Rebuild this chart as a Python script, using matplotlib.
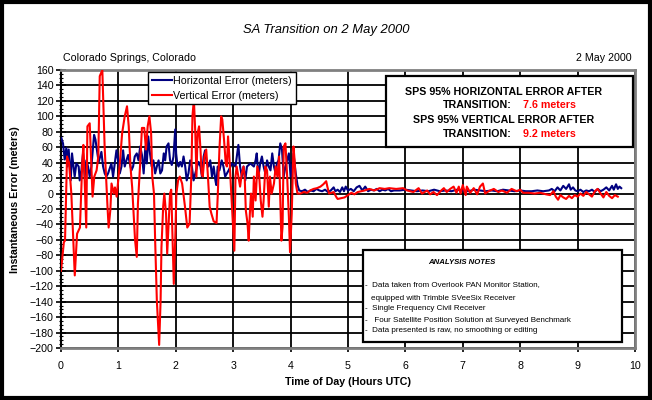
import matplotlib
matplotlib.use("Agg")
import matplotlib.pyplot as plt
from matplotlib.patches import Rectangle
from matplotlib.ticker import MultipleLocator

plt.rcParams['font.family'] = ['Liberation Sans', 'DejaVu Sans']

# horizontal error (meters) vs time (hours UTC)
horiz_t = [0.006, 0.035, 0.064, 0.093, 0.11, 0.134, 0.169, 0.192, 0.238, 0.268,
           0.308, 0.326, 0.355, 0.384, 0.413, 0.442, 0.471, 0.50, 0.53, 0.576,
           0.60, 0.634, 0.657, 0.704, 0.733, 0.762, 0.79, 0.82, 0.878, 0.907,
           0.966, 0.995, 1.024, 1.053, 1.082, 1.11, 1.14, 1.17, 1.198, 1.227,
           1.256, 1.285, 1.32, 1.35, 1.38, 1.41, 1.44, 1.47, 1.495, 1.52,
           1.55, 1.58, 1.61, 1.64, 1.67, 1.70, 1.73, 1.76, 1.79, 1.815,
           1.84, 1.873, 1.90, 1.93, 1.96, 1.99, 2.006, 2.025, 2.048, 2.077,
           2.106, 2.135, 2.164, 2.19, 2.22, 2.25, 2.28, 2.31, 2.34, 2.37,
           2.397, 2.43, 2.455, 2.485, 2.51, 2.54, 2.57, 2.60, 2.63, 2.66,
           2.69, 2.705, 2.73, 2.76, 2.80, 2.83, 2.86, 2.92, 2.98, 3.04,
           3.09, 3.12, 3.15, 3.18, 3.21, 3.24, 3.30, 3.36, 3.39, 3.41,
           3.44, 3.47, 3.50, 3.53, 3.56, 3.59, 3.62, 3.65, 3.68, 3.71,
           3.74, 3.76, 3.79, 3.82, 3.85, 3.88, 3.91, 3.94, 3.97, 4.00,
           4.03, 4.05, 4.09, 4.12, 4.15, 4.20, 4.25, 4.30, 4.35, 4.40,
           4.45, 4.50, 4.55, 4.60, 4.65, 4.70, 4.75, 4.78, 4.82, 4.86,
           4.90, 4.93, 4.96, 5.00, 5.05, 5.10, 5.15, 5.20, 5.25, 5.30,
           5.35, 5.40, 5.45, 5.50, 5.55, 5.60, 5.65, 5.70, 5.75, 5.80,
           5.90, 6.00, 6.10, 6.20, 6.30, 6.40, 6.50, 6.60, 6.70, 6.80,
           6.90, 7.00, 7.10, 7.20, 7.30, 7.40, 7.50, 7.60, 7.70, 7.80,
           7.90, 8.00, 8.10, 8.20, 8.30, 8.40, 8.50, 8.55, 8.60, 8.65,
           8.70, 8.75, 8.80, 8.85, 8.88, 8.92, 8.96, 9.00, 9.05, 9.10,
           9.15, 9.20, 9.25, 9.30, 9.35, 9.40, 9.45, 9.50, 9.55, 9.60,
           9.63, 9.67, 9.70, 9.73, 9.76]
horiz_err = [72, 65, 44, 59, 35, 57, 17, 52, 22, 39,
             35, 17, 30, 52, 22, 43, 35, 22, 35, 76,
             70, 52, 41, 54, 35, 26, 22, 26, 39, 22,
             56, 43, 26, 35, 56, 35, 43, 50, 39, 30,
             35, 48, 52, 43, 61, 50, 26, 61, 39, 74,
             52, 35, 43, 26, 35, 43, 26, 30, 52, 43,
             61, 65, 43, 37, 48, 83, 52, 39, 35, 41,
             35, 48, 35, 17, 26, 43, 35, 17, 26, 35,
             41, 35, 22, 48, 56, 39, 35, 43, 22, 35,
             17, 11, 35, 30, 43, 35, 22, 30, 39, 35,
             63, 35, 22, 35, 17, 35, 39, 35, 43, 52,
             22, 39, 48, 35, 26, 43, 35, 30, 52, 35,
             26, 39, 43, 65, 57, 22, 35, 43, 52, 22,
             35, 52, 26, 11, 4, 3, 5, 2, 4, 3,
             6, 4, 3, 5, 2, 4, 8, 3, 5, 2,
             8, 3, 9, 4, 6, 3, 8, 10, 4, 9,
             3, 5, 4, 6, 3, 5, 4, 6, 3, 4,
             4, 5, 4, 3, 4, 3, 5, 3, 4, 3,
             5, 4, 3, 5, 4, 3, 4, 3, 5, 4,
             3, 4, 3, 3, 4, 3, 4, 6, 3, 8,
             4, 10, 6, 12, 5, 8, 4, 3, 5, 2,
             4, 3, 5, 2, 6, 3, 5, 8, 4, 10,
             5, 12, 6, 9, 7]

# vertical error (meters) vs time (hours UTC)
vert_t = [0.00, 0.05, 0.07, 0.105, 0.14, 0.18, 0.24, 0.28, 0.33, 0.37,
          0.39, 0.41, 0.44, 0.46, 0.50, 0.52, 0.55, 0.58, 0.62, 0.65,
          0.675, 0.72, 0.76, 0.81, 0.83, 0.86, 0.88, 0.92, 0.94, 0.97,
          1.02, 1.065, 1.11, 1.15, 1.18, 1.21, 1.24, 1.29, 1.32, 1.34,
          1.38, 1.41, 1.45, 1.48, 1.51, 1.54, 1.57, 1.59, 1.62, 1.64,
          1.67, 1.71, 1.735, 1.75, 1.78, 1.80, 1.83, 1.85, 1.875, 1.90,
          1.92, 1.94, 1.965, 1.99, 2.01, 2.04, 2.07, 2.11, 2.16, 2.20,
          2.24, 2.27, 2.29, 2.315, 2.34, 2.36, 2.38, 2.405, 2.43, 2.45,
          2.47, 2.50, 2.53, 2.56, 2.59, 2.62, 2.66, 2.71, 2.73, 2.76,
          2.79, 2.81, 2.84, 2.87, 2.89, 2.91, 2.93, 2.96, 3.02, 3.04,
          3.06, 3.09, 3.12, 3.15, 3.18, 3.20, 3.22, 3.25, 3.27, 3.29,
          3.31, 3.34, 3.36, 3.39, 3.42, 3.45, 3.48, 3.51, 3.53, 3.56,
          3.59, 3.62, 3.64, 3.67, 3.71, 3.74, 3.77, 3.80, 3.82, 3.84,
          3.86, 3.88, 3.91, 3.94, 3.97, 3.99, 4.02, 4.05, 4.07, 4.09,
          4.12, 4.17, 4.23, 4.29, 4.34, 4.40, 4.46, 4.52, 4.57, 4.62,
          4.64, 4.67, 4.71, 4.75, 4.80, 4.82, 4.88, 4.94, 5.00, 5.06,
          5.11, 5.17, 5.23, 5.29, 5.37, 5.46, 5.55, 5.64, 5.72, 5.84,
          5.96, 6.03, 6.14, 6.23, 6.29, 6.38, 6.43, 6.49, 6.55, 6.61,
          6.67, 6.72, 6.78, 6.84, 6.89, 6.93, 6.96, 7.00, 7.05, 7.07,
          7.13, 7.19, 7.25, 7.30, 7.35, 7.39, 7.45, 7.54, 7.62, 7.68,
          7.77, 7.85, 7.94, 8.00, 8.05, 8.15, 8.25, 8.35, 8.45, 8.52,
          8.58, 8.62, 8.66, 8.70, 8.75, 8.80, 8.85, 8.90, 8.95, 9.00,
          9.05, 9.10, 9.15, 9.20, 9.25, 9.30, 9.35, 9.40, 9.45, 9.50,
          9.55, 9.60, 9.65, 9.70]
vert_err = [-100, -63, -61, 48, 40, 0, -106, -52, -44, 39,
            63, 22, -44, 87, 91, 52, -4, 22, 30, 48,
            152, 160, 61, -17, -44, -21, 13, 0, 8, -4,
            35, 78, 100, 113, 87, 35, 8, -60, -82, -13,
            40, 85, 85, 57, 87, 100, 78, 22, 0, -60,
            -139, -196, -139, -70, -17, 0, -26, -78, -40, 0,
            5, -48, -117, -60, 0, 17, 22, 13, -17, -44,
            -39, 22, 100, 122, 78, 22, 78, 87, 57, 26,
            22, 48, 57, 22, -17, -26, -36, -38, -4, 57,
            100, 96, 70, 39, 35, 74, 52, 9, -74, 22,
            35, 22, 9, 26, 35, 22, -22, -39, -61, -26,
            0, -30, 22, -9, 35, 26, -9, -30, -9, 35,
            30, -17, 22, 0, 13, 35, 22, 48, -9, -61,
            -43, 61, 65, 22, -30, -76, -26, 61, 43, 13,
            0, 0, 2, 1, 4, 6, 7, 9, 12, 16,
            9, 0, 1, 2, -5, -7, -6, -5, -2, 1,
            -1, 2, 3, 4, 6, 4, 7, 6, 7, 6,
            7, 4, 2, 7, 0, 4, -1, 2, -2, 3,
            7, 2, 6, 9, 1, 9, 0, 11, -2, 9,
            1, 7, -1, 9, 13, 0, 3, 6, 2, 4,
            1, 6, 3, 5, 1, 1, 0, 1, -1, -2,
            3, -4, -8, -2, -5, -7, -3, -6, -2, -4,
            0, -3, 2, -1, -4, 3, 6, 0, -5, 2,
            -3, -6, -2, -4]

x_ticks = list(range(0, 11))
y_ticks = list(range(-200, 161, 20))

W, H = 652, 400


def fx(px):
    return px / W


def fy(py):
    return 1 - py / H


fig = plt.figure(figsize=(6.52, 4.0), dpi=100)
ax = fig.add_axes([fx(61), fy(348), fx(635) - fx(61), fy(70) - fy(348)])

ax.plot(horiz_t, horiz_err, color='#000080', lw=1.5, label='Horizontal Error (meters)', zorder=3)
ax.plot(vert_t, vert_err, color='#ff0000', lw=1.5, label='Vertical Error (meters)', zorder=4)

ax.set_xlim(0, 10)
ax.set_ylim(-200, 160)
ax.set_xticks(x_ticks)
ax.set_yticks(y_ticks)
ax.yaxis.set_minor_locator(MultipleLocator(5))
ax.grid(True, which='major', color='black', lw=1.3, zorder=1)
ax.set_axisbelow(True)

ax.tick_params(axis='y', which='major', direction='inout', length=7, width=1.2,
               labelsize=7.7, pad=2)
ax.tick_params(axis='y', which='minor', direction='inout', length=3, width=0.8)
ax.tick_params(axis='x', which='major', direction='out', length=3, width=1.2,
               labelsize=7.7, pad=6.5)

for side in ['top', 'bottom', 'right']:
    ax.spines[side].set_color('#808080')
    ax.spines[side].set_linewidth(2)
ax.spines['left'].set_color('black')
ax.spines['left'].set_linewidth(1.5)

ax.set_xlabel('Time of Day (Hours UTC)', fontsize=7.7, fontweight='bold', labelpad=4)
ax.set_ylabel('Instantaneous Error (meters)', fontsize=7.7, fontweight='bold')
ax.yaxis.set_label_coords((20 - 61) / 574, (348 - 200) / 278)

leg = ax.legend(loc='upper left', bbox_to_anchor=(fx(148), fy(72)),
                bbox_transform=fig.transFigure, fontsize=7.7, frameon=True,
                fancybox=False, framealpha=1, edgecolor='black', borderpad=0.35,
                handlelength=1.9, handletextpad=0.12, labelspacing=0.45,
                borderaxespad=0)
leg.get_frame().set_linewidth(1.0)
leg.set_zorder(6)

# titles
fig.text(fx(326), fy(30), 'SA Transition on 2 May 2000', fontsize=9.4, style='italic',
         ha='center', va='center')
fig.text(fx(63), fy(58), 'Colorado Springs, Colorado', fontsize=7.7, ha='left', va='center')
fig.text(fx(632), fy(58), '2 May 2000', fontsize=7.7, ha='right', va='center')

# stats box
fig.add_artist(Rectangle((fx(386), fy(147)), fx(633) - fx(386), fy(76) - fy(147),
                         transform=fig.transFigure, facecolor='white',
                         edgecolor='black', lw=1.6, zorder=5))
fig.text(fx(504), fy(92), 'SPS 95% HORIZONTAL ERROR AFTER', fontsize=7.7,
         fontweight='bold', ha='center', va='center', zorder=6)
fig.text(fx(443), fy(105), 'TRANSITION:', fontsize=7.7, fontweight='bold',
         ha='left', va='center', zorder=6)
fig.text(fx(523), fy(105), '7.6 meters', fontsize=7.7, fontweight='bold',
         color='#ff0000', ha='left', va='center', zorder=6)
fig.text(fx(504), fy(120), 'SPS 95% VERTICAL ERROR AFTER', fontsize=7.7,
         fontweight='bold', ha='center', va='center', zorder=6)
fig.text(fx(443), fy(134), 'TRANSITION:', fontsize=7.7, fontweight='bold',
         ha='left', va='center', zorder=6)
fig.text(fx(523), fy(134), '9.2 meters', fontsize=7.7, fontweight='bold',
         color='#ff0000', ha='left', va='center', zorder=6)

# analysis notes box
fig.add_artist(Rectangle((fx(363), fy(342)), fx(622) - fx(363), fy(250) - fy(342),
                         transform=fig.transFigure, facecolor='white',
                         edgecolor='black', lw=1.6, zorder=5))
fig.text(fx(462), fy(262), 'ANALYSIS NOTES', fontsize=5.6, fontweight='bold',
         style='italic', ha='center', va='center', zorder=6)
notes = [(365, 285, '-  Data taken from Overlook PAN Monitor Station,'),
         (371, 298, 'equipped with Trimble SVeeSix Receiver'),
         (365, 309, '-  Single Frequency Civil Receiver'),
         (365, 320, '-   Four Satellite Position Solution at Surveyed Benchmark'),
         (365, 331, '-  Data presented is raw, no smoothing or editing')]
for x, y, s in notes:
    fig.text(fx(x), fy(y), s, fontsize=5.8, ha='left', va='center', zorder=6)

# outer frame
fig.add_artist(Rectangle((0.003, 0.004), 0.994, 0.992, transform=fig.transFigure,
                         facecolor='none', edgecolor='black', lw=3, zorder=10))

fig.savefig('out.png', dpi=100)
